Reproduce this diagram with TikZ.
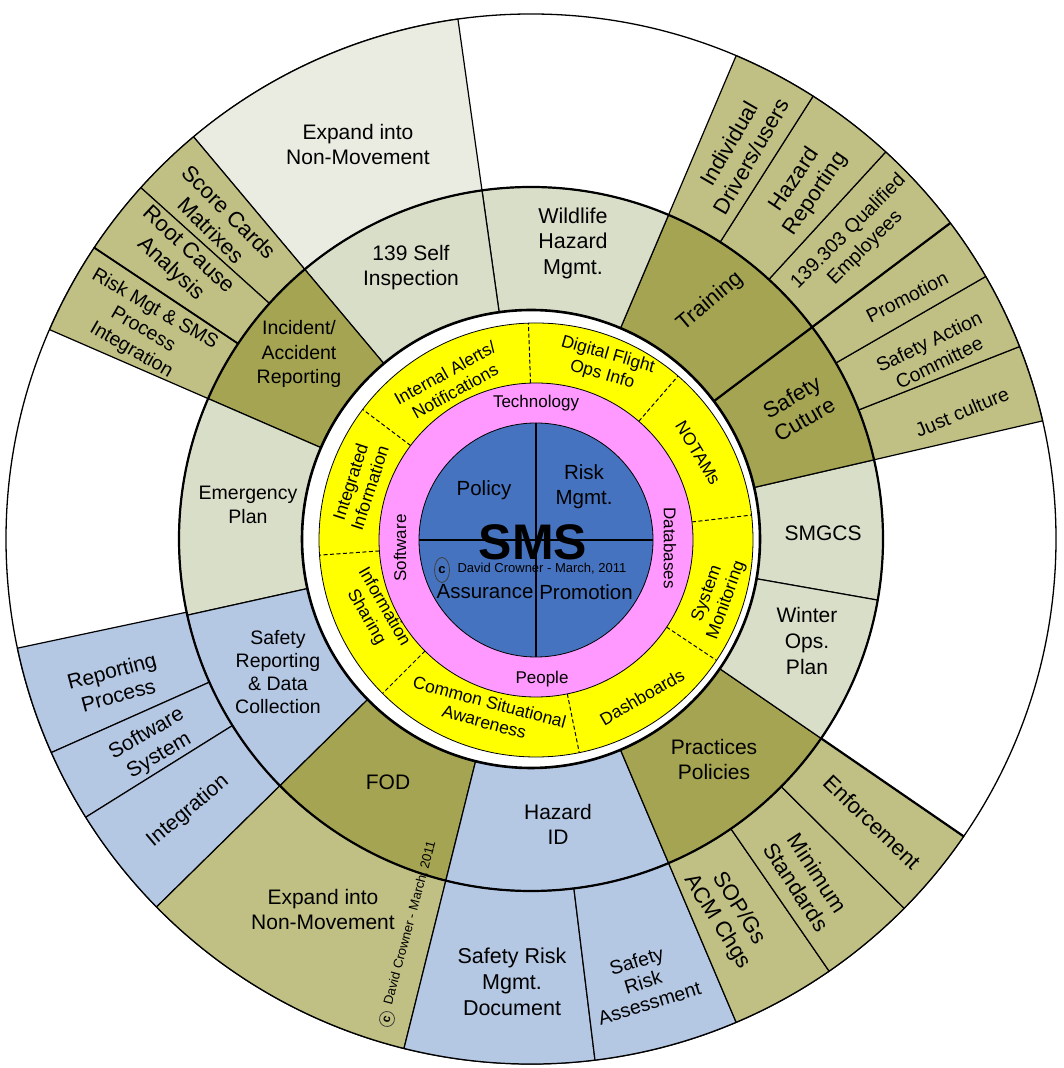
\documentclass[tikz,border=0pt]{standalone}
\usepackage{fontspec}
\setmainfont{Liberation Sans}
\usetikzlibrary{shapes.geometric}
\definecolor{midlight}{HTML}{D9DEC9}
\definecolor{toplight}{HTML}{EAEBE1}
\definecolor{darkolive}{HTML}{A4A452}
\definecolor{lightolive}{HTML}{C0C084}
\definecolor{segblue}{HTML}{B4C7E3}
\definecolor{coreblue}{HTML}{4673BF}
\definecolor{ringpink}{HTML}{FF99FF}
\definecolor{ringyellow}{HTML}{FFFF00}
\tikzset{
  seg/.style={draw=black, line width=1.2pt, line join=round},
  lbl/.style={font=\fontsize{21}{25}\selectfont, align=center, inner sep=0pt},
  lblS/.style={lbl, font=\fontsize{19.5}{23.5}\selectfont},
  lblL/.style={lbl, font=\fontsize{22}{25.5}\selectfont},
  ylbl/.style={font=\fontsize{17.5}{20.5}\selectfont, align=center, inner sep=0pt},
  plbl/.style={font=\fontsize{17}{20}\selectfont, align=center, inner sep=0pt},
  divline/.style={line width=1pt, dash pattern=on 4pt off 2.5pt},
}
\newcommand\sector[5][]{%
  \filldraw[seg,#1] ([shift={(#2:#4)}]O) arc[start angle=#2, end angle=#3, radius=#4]
    -- ([shift={(#3:#5)}]O) arc[start angle=#3, end angle=#2, radius=#5] -- cycle;}
\begin{document}
\begin{tikzpicture}[x=1pt,y=1pt]
\useasboundingbox (0,0) rectangle (1064,1068);
\fill[white] (0,0) rectangle (1064,1068);
\coordinate (O) at (531,529);
\coordinate (I) at (536,528);
% outer white disc
\filldraw[fill=white, line width=1.3pt] (O) circle[radius=525];
% ---- outer ring ----
\sector[fill=lightolive]{13}{21.5}{352}{525}
\sector[fill=lightolive]{21.5}{30}{352}{525}
\sector[fill=lightolive]{30}{37}{352}{525}
\sector[fill=lightolive]{37}{47.5}{352}{525}
\sector[fill=lightolive]{47.5}{57.5}{352}{525}
\sector[fill=lightolive]{57.5}{67}{352}{525}
\sector[fill=toplight]{98}{130}{352}{525}
\sector[fill=lightolive]{130}{138}{352}{525}
\sector[fill=lightolive]{138}{146.3}{352}{525}
\sector[fill=lightolive]{146.3}{156.5}{352}{525}
\sector[fill=segblue]{192}{204}{352}{525}
\sector[fill=segblue]{204}{212}{352}{525}
\sector[fill=segblue]{212}{224.5}{352}{525}
\sector[fill=lightolive]{224.5}{256}{352}{525}
\sector[fill=segblue]{256}{277}{352}{525}
\sector[fill=segblue]{277}{293}{352}{525}
\sector[fill=lightolive]{293}{304.6}{352}{525}
\sector[fill=lightolive]{304.6}{315.3}{352}{525}
\sector[fill=lightolive]{315.3}{325.5}{352}{525}
% ---- middle ring ----
\sector[fill=midlight]{-10}{13}{229}{352}
\sector[fill=darkolive]{13}{37}{229}{352}
\sector[fill=darkolive]{37}{67}{229}{352}
\sector[fill=midlight]{67}{98}{229}{352}
\sector[fill=midlight]{98}{130}{229}{352}
\sector[fill=darkolive]{130}{156.5}{229}{352}
\sector[fill=midlight]{156.5}{192.5}{229}{352}
\sector[fill=segblue]{192.5}{224.5}{229}{352}
\sector[fill=darkolive]{224.5}{256}{229}{352}
\sector[fill=segblue]{256}{293}{229}{352}
\sector[fill=darkolive]{293}{325.5}{229}{352}
\sector[fill=midlight]{325.5}{350}{229}{352}
% heavier group boundaries
\draw[line width=2.2pt] ([shift={(37:229)}]O) -- ([shift={(37:525)}]O);
\draw[line width=2.2pt] ([shift={(325.5:352)}]O) -- ([shift={(325.5:525)}]O);
\draw[line width=1.8pt] ([shift={(146.3:352)}]O) -- ([shift={(146.3:525)}]O);
\draw[line width=2.2pt] (O) circle[radius=352];
\draw[line width=2.6pt] (O) circle[radius=229];
% ---- inner rings ----
\filldraw[fill=ringyellow, line width=0.8pt] (I) circle[radius=217];
\foreach \a in {92,143,184,225,281.5,326.3,6.6,49.1}
  \draw[divline] ([shift={(\a:157)}]I) -- ([shift={(\a:217)}]I);
\filldraw[fill=ringpink, line width=0.8pt] (I) circle[radius=157];
\filldraw[fill=coreblue, line width=0.8pt] (I) circle[radius=117];
\draw[line width=1.3pt] ([shift={(90:117)}]I) -- ([shift={(270:117)}]I);
\draw[line width=1.3pt] ([shift={(180:117)}]I) -- ([shift={(0:117)}]I);
% ---- centre labels ----
\node[lbl, font=\fontsize{20.5}{25}\selectfont] (policy) at (484,578) {Policy};
\node[lbl, font=\fontsize{20.5}{25}\selectfont] (riskm) at (584,581) {Risk\\Mgmt.};
\node[font=\fontsize{50}{50}\bfseries, inner sep=0pt] (sms) at (533,526) {SMS};
\node[font=\fontsize{13}{15}\selectfont, inner sep=0pt] (author) at (542,499) {David Crowner - March, 2011};
\node[draw=black!75, ellipse, line width=0.8pt, minimum width=15pt, minimum height=25pt, inner sep=0pt, font=\fontsize{13}{15}\bfseries] (copyc) at (442,498) {c};
\node[lbl, font=\fontsize{20.5}{25}\selectfont] (assur) at (485,476) {Assurance};
\node[lbl, font=\fontsize{20.5}{25}\selectfont] (promo) at (586,476) {Promotion};
% ---- pink labels ----
\node[plbl] (tech) at (536,665) {Technology};
\node[plbl] (people) at (542,389) {People};
\node[plbl, rotate=90] (softw) at (400,520) {Software};
\node[plbl, rotate=-90] (datab) at (670,520) {Databases};
% ---- yellow labels ----
\node[ylbl, rotate=29] (ialerts) at (450,686) {Internal Alerts/\\Notifications};
\node[ylbl, rotate=-16] (digital) at (605,703) {Digital Flight\\Ops Info};
\node[ylbl, rotate=-59] (notams) at (698,615) {NOTAMs};
\node[ylbl, rotate=70] (sysmon) at (717,471) {System\\Monitoring};
\node[ylbl, rotate=30] (dash) at (642,371) {Dashboards};
\node[ylbl, rotate=-15] (common) at (487,356) {Common Situational\\Awareness};
\node[ylbl, rotate=-60] (infoshare) at (375,456) {Information\\Sharing};
\node[ylbl, rotate=72] (integinfo) at (360,583) {Integrated\\Information};
% ---- middle ring labels ----
\node[lbl] (smgcs) at (823,535) {SMGCS};
\node[lbl, font=\fontsize{21}{26}\selectfont] (winter) at (807,427) {Winter\\Ops.\\Plan};
\node[lbl] (practices) at (714,309) {Practices\\Policies};
\node[lbl] (hazid) at (558,244) {Hazard\\ID};
\node[lbl] (fod) at (388,286) {FOD};
\node[lblS, font=\fontsize{19.5}{23}\selectfont] (safrep) at (278,396) {Safety\\Reporting\\\& Data\\Collection};
\node[lblS] (emerg) at (248,563) {Emergency\\Plan};
\node[lblS, font=\fontsize{19.5}{24.5}\selectfont] (incident) at (299,714) {Incident/\\Accident\\Reporting};
\node[lbl] (selfinsp) at (411,800) {139 Self\\Inspection};
\node[lbl, font=\fontsize{21.5}{25.5}\selectfont] (wildlife) at (573,825) {Wildlife\\Hazard\\Mgmt.};
\node[lblL, rotate=40] (training) at (710,766) {Training};
\node[lblL, rotate=30] (safcult) at (798,660) {Safety\\Cuture};
% ---- outer ring labels ----
\node[lbl] (expandtop) at (358,923) {Expand into\\Non-Movement};
\node[lblL, rotate=-45] (scorecards) at (220,847) {Score Cards\\Matrixes};
\node[lblL, rotate=-43] (rootcause) at (179,808) {Root Cause\\Analysis};
\node[lblS, rotate=-30] (riskmgt) at (143,738) {Risk Mgt \& SMS\\Process\\Integration};
\node[lblL, rotate=60] (individual) at (740,918) {Individual\\Drivers/users};
\node[lblL, rotate=56] (hazrep) at (805,881) {Hazard\\Reporting};
\node[lblS, rotate=45] (qualified) at (857,828) {139.303 Qualified\\Employees};
\node[lblS, rotate=27] (promotion) at (907,771) {Promotion};
\node[lblS, rotate=26] (sac) at (934,716) {Safety Action\\Committee};
\node[lblS, rotate=23] (justc) at (962,656) {Just culture};
\node[lblL, rotate=-44] (enforce) at (872,246) {Enforcement};
\node[lblL, rotate=-57] (minstd) at (807,188) {Minimum\\Standards};
\node[lblL, rotate=-58] (sop) at (728,153) {SOP/Gs\\ACM Chgs};
\node[lblS, rotate=17, font=\fontsize{19.5}{22}\selectfont] (sra) at (643,86) {Safety\\Risk\\Assessment};
\node[lbl, font=\fontsize{21.5}{26}\selectfont] (srmd) at (512,86) {Safety Risk\\Mgmt.\\Document};
\node[lbl] (expandbot) at (323,159) {Expand into\\Non-Movement};
\node[lbl, rotate=15] (repproc) at (115,385) {Reporting\\Process};
\node[lbl, rotate=30] (softsys) at (153,323) {Software\\System};
\node[lbl, rotate=40] (integ) at (188,257) {Integration};
\node[font=\fontsize{13}{15}\selectfont, inner sep=0pt, rotate=75] (author2) at (410,145) {David Crowner - March, 2011};
\node[draw=black!75, circle, line width=0.8pt, minimum size=15pt, inner sep=0pt, font=\fontsize{12}{14}\bfseries, rotate=75] (copyc2) at (387,49) {c};
\end{tikzpicture}
\end{document}
